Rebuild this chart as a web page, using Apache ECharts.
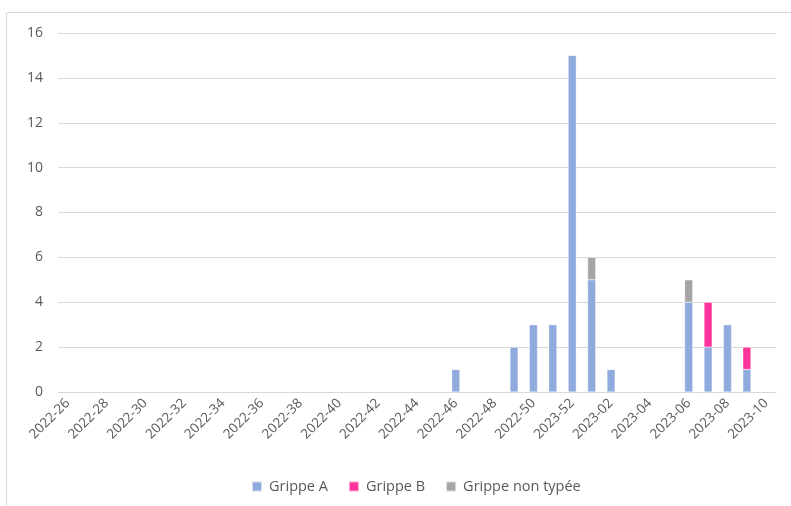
<!DOCTYPE html>
<html><head><meta charset="utf-8">
<script src="https://cdn.jsdelivr.net/npm/echarts@6/dist/echarts.min.js"></script>
<style>html,body{margin:0;padding:0;background:#fff}#c{width:791px;height:506px}</style>
</head><body><div id="c"></div>
<script>
const weeks2022 = ['2022-26','2022-27','2022-28','2022-29','2022-30','2022-31','2022-32','2022-33','2022-34','2022-35','2022-36','2022-37','2022-38','2022-39','2022-40','2022-41','2022-42','2022-43','2022-44','2022-45','2022-46','2022-47','2022-48','2022-49','2022-50','2022-51'];
const weeks2023 = ['2023-52','2023-01','2023-02','2023-03','2023-04','2023-05','2023-06','2023-07','2023-08','2023-09','2023-10'];
const categories = weeks2022.concat(weeks2023);
const grippeA    = [0,0,0,0,0,0,0,0,0,0,0,0,0,0,0,0,0,0,0,0,1,0,0,2,3,3,15,5,1,0,0,0,4,2,3,1,0];
const grippeB    = [0,0,0,0,0,0,0,0,0,0,0,0,0,0,0,0,0,0,0,0,0,0,0,0,0,0,0,0,0,0,0,0,0,2,0,1,0];
const grippeNT   = [0,0,0,0,0,0,0,0,0,0,0,0,0,0,0,0,0,0,0,0,0,0,0,0,0,0,0,1,0,0,0,0,1,0,0,0,0];
const yTicks = [0,2,4,6,8,10,12,14,16];

const font = '"Open Sans", "Noto Sans", sans-serif';
const chart = echarts.init(document.getElementById('c'), null, {renderer:'canvas'});
const mk = (name, data, color) => ({
  name, type:'bar', stack:'t', data: data.map(v => v === 0 ? null : v),
  barWidth:'42%',
  itemStyle:{color, borderColor:'rgba(255,255,255,0.6)', borderWidth:0.5},
  emphasis:{disabled:true}
});
chart.setOption({
  animation:false,
  graphic:[{type:'rect', shape:{x:6.5,y:12.5,width:800,height:520}, style:{fill:'none', stroke:'#d9d9d9', lineWidth:1}, silent:true}],
  grid:{left:58, right:15, top:33, bottom:114},
  legend:{bottom:7, left:246, itemWidth:10, itemHeight:10, itemGap:20,
    icon:'rect', textStyle:{color:'#595959', fontSize:14.5, fontFamily:font, padding:[0,0,0,2]},
    data:['Grippe A','Grippe B','Grippe non typée']},
  xAxis:{type:'category', data:categories,
    axisLine:{lineStyle:{color:'#d9d9d9', width:1}}, axisTick:{show:false},
    axisLabel:{interval:1, rotate:45, color:'#595959', fontSize:13.5, fontFamily:font, margin:9}},
  yAxis:{type:'value', min:0, max:16, interval:2,
    axisLine:{show:false}, axisTick:{show:false},
    splitLine:{lineStyle:{color:'#d9d9d9', width:1}},
    axisLabel:{color:'#595959', fontSize:14, fontFamily:font, margin:15,
      formatter: v => yTicks.includes(v) ? String(v) : ''}},
  series:[mk('Grippe A', grippeA, '#8faadc'), mk('Grippe B', grippeB, '#ff3399'), mk('Grippe non typée', grippeNT, '#a5a5a5')]
});
</script></body></html>
